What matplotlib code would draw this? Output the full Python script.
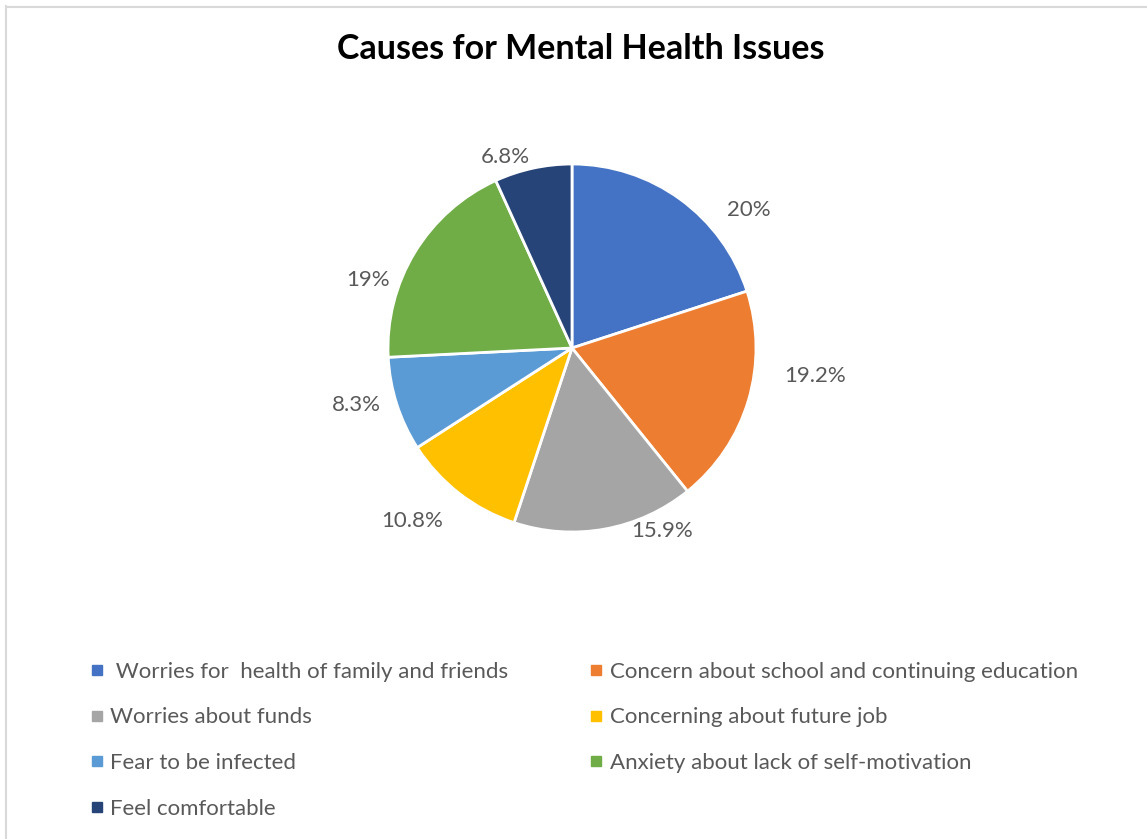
import numpy as np
import matplotlib.pyplot as plt
from matplotlib.lines import Line2D

plt.rcParams['font.family'] = ['Lato', 'DejaVu Sans']

labels = [' Worries for  health of family and friends',
          'Concern about school and continuing education',
          'Worries about funds',
          'Concerning about future job',
          'Fear to be infected',
          'Anxiety about lack of self-motivation',
          'Feel comfortable']
values = [20, 19.2, 15.9, 10.8, 8.3, 19, 6.8]
pct_labels = ['20%', '19.2%', '15.9%', '10.8%', '8.3%', '19%', '6.8%']
colors = ['#4472C4', '#ED7D31', '#A5A5A5', '#FFC000', '#5B9BD5', '#70AD47', '#264478']

# Excel "best fit" label placement: angle nudge (deg) and distance (radii)
lab_shift = [-16, 10, 16, -5, -3, 13, 7]
lab_dist = [1.22, 1.33, 1.11, 1.28, 1.21, 1.17, 1.10]

W, H = 1147, 839
fig = plt.figure(figsize=(W / 100, H / 100), dpi=100)

# pie axes, centre (572,348) px, radius 184 px
cx, cy, r = 572, 348, 184
side = 2.6 * r
ax = fig.add_axes([(cx - side / 2) / W, 1 - (cy + side / 2) / H, side / W, side / H])
wedges, _ = ax.pie(values, colors=colors, startangle=90, counterclock=False,
                   wedgeprops=dict(edgecolor='white', linewidth=2))
for w, lab, da, d in zip(wedges, pct_labels, lab_shift, lab_dist):
    ang = np.deg2rad((w.theta1 + w.theta2) / 2 + da)
    ax.text(d * np.cos(ang), d * np.sin(ang), lab, ha='center', va='center',
            color='#595959', fontsize=16)
ax.set_xlim(-1.3, 1.3)
ax.set_ylim(-1.3, 1.3)
ax.set_aspect('equal')
ax.axis('off')

fig.text(581 / W, 1 - 49 / H, 'Causes for Mental Health Issues', ha='center', va='center',
         fontsize=24.5, fontweight='bold', color='black')

# legend, row-major order in two columns
order = [0, 2, 4, 6, 1, 3, 5]
handles = [Line2D([], [], marker='s', linestyle='', color=colors[i], markersize=7) for i in order]
fig.legend(handles, [labels[i] for i in order], ncol=2, loc='upper left',
           bbox_to_anchor=(89 / W, 1 - 661.5 / H), frameon=False, fontsize=16,
           labelcolor='#595959', handlelength=0.7, handletextpad=0.25,
           labelspacing=1.16, columnspacing=3.62, borderpad=0, borderaxespad=0)

# light chart border
fig.add_artist(Line2D([5.5 / W, 5.5 / W], [0, 1 - 6 / H], color='#d9d9d9', lw=1.5))
fig.add_artist(Line2D([5.5 / W, 1], [1 - 6.5 / H, 1 - 6.5 / H], color='#d9d9d9', lw=1.5))

fig.savefig('out.png', dpi=100, facecolor='white')
